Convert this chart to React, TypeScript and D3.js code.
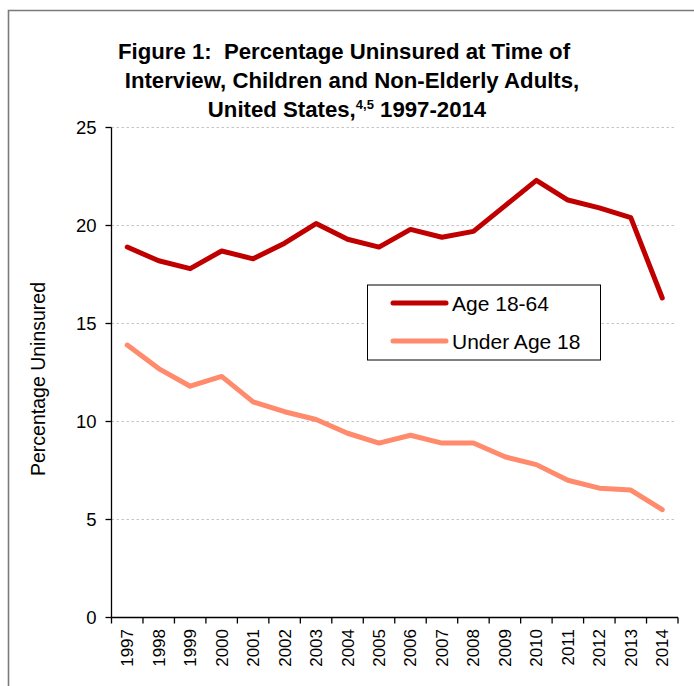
import React from "react";
import * as d3 from "d3";

const years = ["1997","1998","1999","2000","2001","2002","2003","2004","2005","2006","2007","2008","2009","2010","2011","2012","2013","2014"];
const adults = [18.9,18.2,17.8,18.7,18.3,19.1,20.1,19.3,18.9,19.8,19.4,19.7,21.0,22.3,21.3,20.9,20.4,16.3];
const children = [13.9,12.7,11.8,12.3,11.0,10.5,10.1,9.4,8.9,9.3,8.9,8.9,8.2,7.8,7.0,6.6,6.5,5.5];
const yTicks = [0,5,10,15,20,25];
const seriesNames = ["Age 18-64","Under Age 18"];
const titleLines = ["Figure 1:\u00A0 Percentage Uninsured at Time of","Interview, Children and Non-Elderly Adults,"];

const W = 694, H = 686;
const left = 111.5, right = 678, top = 127.5, bottom = 617.5;
const RED = "#C00000", ORANGE = "#FF8A6C";
const FONT = "Liberation Sans, Arial, Helvetica, sans-serif";

export default function App() {
  const x = d3.scaleBand<string>().domain(years).range([left, right]);
  const y = d3.scaleLinear().domain([0, 25]).range([bottom, top]);
  const cx = (yr: string) => (x(yr) as number) + x.bandwidth() / 2;
  const line = d3.line<number>().x((_, i) => cx(years[i])).y((d) => y(d));
  const series = [
    { name: seriesNames[0], data: adults, color: RED },
    { name: seriesNames[1], data: children, color: ORANGE },
  ];
  const tickXs = years.map((yr) => x(yr) as number).concat([right]);

  return (
    <svg width={W} height={H} style={{ position: "absolute", left: 0, top: 0 }} fontFamily={FONT}>
      <rect x={0} y={0} width={W} height={H} fill="#fff" />
      {/* outer frame */}
      <path d={`M8.5,${H} V10.5 H${W}`} fill="none" stroke="#7a7a7a" strokeWidth={1.6} />
      {/* title */}
      <text textAnchor="middle" fontSize={22.2} fontWeight="bold" fill="#000">
        <tspan x={344} y={59}>{titleLines[0]}</tspan>
        <tspan x={352} y={88}>{titleLines[1]}</tspan>
        <tspan x={347} y={117}>
          United States,<tspan fontSize={13} dy={-8}>4,5</tspan>
          <tspan dy={8}> 1997-2014</tspan>
        </tspan>
      </text>
      {/* gridlines */}
      {yTicks.filter((t) => t > 0).map((t) => (
        <line key={t} x1={left} x2={675} y1={y(t)} y2={y(t)} stroke="#c4c4c4" strokeWidth={1} strokeDasharray="2.5,2.5" />
      ))}
      {/* y axis */}
      <line x1={left} x2={left} y1={top} y2={bottom} stroke="#000" strokeWidth={1.3} />
      {yTicks.map((t) => (
        <g key={t}>
          <line x1={left - 6} x2={left} y1={y(t)} y2={y(t)} stroke="#000" strokeWidth={1.3} />
          <text x={96.5} y={y(t) + 6.5} textAnchor="end" fontSize={18.5} fill="#000">{t}</text>
        </g>
      ))}
      {/* x axis */}
      <line x1={left} x2={right} y1={bottom} y2={bottom} stroke="#000" strokeWidth={1.3} />
      {tickXs.map((tx, i) => (
        <line key={i} x1={tx} x2={tx} y1={bottom} y2={bottom + 6} stroke="#000" strokeWidth={1.3} />
      ))}
      {years.map((yr) => (
        <text key={yr} transform={`translate(${cx(yr) + 6},629) rotate(-90)`} textAnchor="end" fontSize={17} fill="#000">{yr}</text>
      ))}
      {/* y label */}
      <text transform={`translate(45,379) rotate(-90)`} textAnchor="middle" fontSize={19.5} fill="#000">Percentage Uninsured</text>
      {/* lines */}
      {series.map((s) => (
        <path key={s.name} d={line(s.data) || ""} fill="none" stroke={s.color} strokeWidth={5} strokeLinejoin="round" strokeLinecap="round" />
      ))}
      {/* legend */}
      <rect x={367.5} y={285} width={233} height={75} fill="#fff" stroke="#000" strokeWidth={1} />
      {series.map((s, i) => (
        <g key={s.name}>
          <line x1={393} x2={446} y1={303 + i * 38} y2={303 + i * 38} stroke={s.color} strokeWidth={5} strokeLinecap="round" />
          <text x={452} y={310.5 + i * 38} fontSize={21} fill="#000">{s.name}</text>
        </g>
      ))}
    </svg>
  );
}
